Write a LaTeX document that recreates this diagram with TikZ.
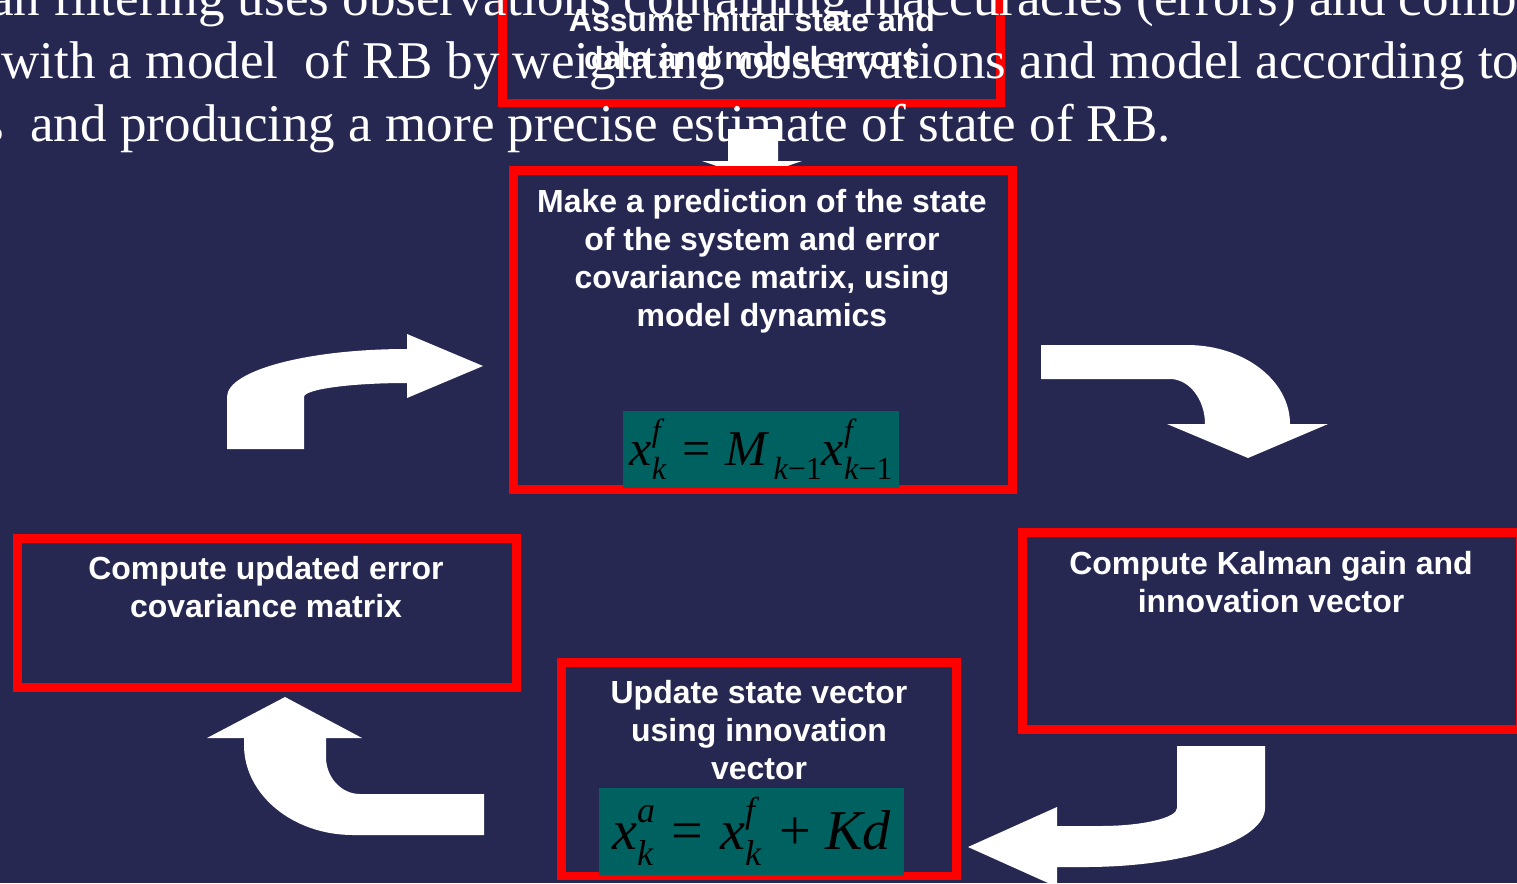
\documentclass[tikz,border=0pt]{standalone}
\usepackage{fontspec}
\setmainfont{Liberation Sans}
\newfontfamily\serifrm{Liberation Serif}
\newfontfamily\eqrm{Liberation Serif}
\definecolor{navy}{RGB}{38,40,82}
\definecolor{tealbox}{RGB}{0,98,96}
\definecolor{redline}{RGB}{255,0,0}
\tikzset{
  redbox/.style={draw=redline, line width=5.1pt, fill=navy, inner sep=0pt},
  eqbox/.style={fill=tealbox, inner sep=0pt, text=black},
  lbl/.style={text=white, font=\bfseries\fontsize{18.2}{21.6}\selectfont, align=center, inner sep=0pt, anchor=north},
  bodytext/.style={text=white, font=\serifrm\fontsize{30.2}{35.8}\selectfont, inner sep=0pt, anchor=base west},
  blockarrow/.style={fill=white, draw=none},
}
\newcommand\ssx[2]{\rlap{\raisebox{0.48em}{\fontsize{0.64em}{0.7em}\selectfont #1}}\raisebox{-0.28em}{\fontsize{0.64em}{0.7em}\selectfont #2}}
\newcommand\sbx[1]{\raisebox{-0.28em}{\fontsize{0.64em}{0.7em}\selectfont #1}}
\begin{document}
\begin{tikzpicture}[x=0.02cm, y=-0.02cm]
\fill[navy] (0,0) rectangle (1517,883);
\useasboundingbox (0,0) rectangle (1517,883);

% top box (partly off page)
\node[redbox, fill=none, minimum width=9.98cm, minimum height=2.86cm] (assume) at (751.5,31.5) {};

% body text (cut at edges)
\node[bodytext] (t1) at (40,15) {\llap{Kalman} filtering uses observations containing inaccuracies (errors) and combines them};
\node[bodytext] (t2) at (1,78) {with a model\ \ of RB by weighting observations and model according to};
\node[bodytext] (t3) at (30,141) {\llap{their uncertainties\ \ }and producing a more precise estimate of state of RB.};

\node[lbl] (assumetxt) at (752,8) {Assume initial state and\\data and model errors};

% arrows
\fill[blockarrow] (728,129) -- (778,129) -- (778,161) -- (802,161) -- (752,178) -- (702,161) -- (728,161) -- cycle;

\fill[blockarrow] (227,449) -- (227,397) .. controls (227,370.5) and (307.6,349) .. (407,349) -- (407,334) -- (483,366) -- (407,398) -- (407,383) .. controls (350.1,383) and (304,389.3) .. (304,397) -- (304,449) -- cycle;

\fill[blockarrow] (1041,345) -- (1187,345) .. controls (1243.9,345) and (1290,380.4) .. (1290,424) -- (1328,424) -- (1248,458) -- (1167,424) -- (1205,424) .. controls (1205,399.7) and (1189.3,379) .. (1170,379) -- (1041,379) -- cycle;

\fill[blockarrow] (1265,746) -- (1265,808) .. controls (1265,840.6) and (1184.4,867) .. (1085,867) -- (1057,867) -- (1057,887) -- (968,847) -- (1057,807) -- (1057,826) -- (1100,826) .. controls (1142.5,826) and (1177,817.9) .. (1177,808) -- (1177,746) -- cycle;

\fill[blockarrow] (484,835) -- (353,835) .. controls (292.8,835) and (244,794.7) .. (244,745) -- (244,738) -- (207,738) -- (285,697) -- (362,738) -- (326,738) -- (326,757) .. controls (326,777.4) and (341.2,794) .. (360,794) -- (484,794) -- cycle;

% boxes
\node[redbox, minimum width=9.98cm, minimum height=6.38cm] (predict) at (763,330) {};
\node[lbl] (predicttxt) at (762,189) {Make a prediction of the state\\of the system and error\\covariance matrix, using\\model dynamics};
\node[eqbox, minimum width=5.52cm, minimum height=1.54cm, font=\eqrm\itshape\fontsize{28.5}{31}\selectfont] (eqone) at (761,449.5)
  {x\ssx{f}{k}\hspace{0.33em}{\upshape =}\hspace{0.3em}M\hspace{0.12em}\sbx{k{\upshape −1}}x\ssx{f}{k{\upshape −1}}};

\node[redbox, minimum width=9.98cm, minimum height=3.94cm] (kalman) at (1271.5,631) {};
\node[lbl] (kalmantxt) at (1271,551) {Compute Kalman gain and\\innovation vector};

\node[redbox, minimum width=9.98cm, minimum height=2.98cm] (covar) at (267,613) {};
\node[lbl] (covartxt) at (266,556) {Compute updated error\\covariance matrix};

\node[redbox, minimum width=7.9cm, minimum height=4.27cm] (update) at (759,769.25) {};
\node[lbl] (updatetxt) at (759,680) {Update state vector\\using innovation\\vector};
\node[eqbox, minimum width=6.1cm, minimum height=1.74cm, font=\eqrm\itshape\fontsize{32}{35}\selectfont] (eqtwo) at (751.5,831.5)
  {x\ssx{a}{k}\hspace{0.33em}{\upshape =}\hspace{0.3em}x\ssx{f}{k}\hspace{0.33em}{\upshape +}\hspace{0.25em}Kd};
\end{tikzpicture}
\end{document}
